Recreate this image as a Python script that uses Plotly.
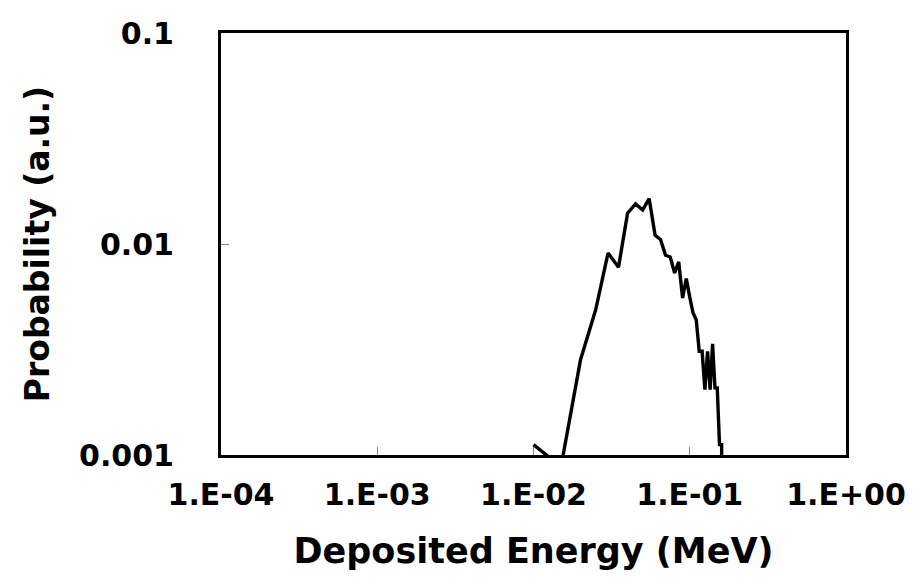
import plotly.graph_objects as go

energy_mev = [0.010, 0.015, 0.020, 0.025, 0.030, 0.035, 0.040, 0.045, 0.050, 0.055,
              0.060, 0.065, 0.070, 0.075, 0.080, 0.085, 0.090, 0.095, 0.100, 0.105,
              0.110, 0.115, 0.120, 0.125, 0.130, 0.135, 0.140, 0.145, 0.150, 0.155,
              0.160, 0.165]
probability = [1.12e-3, 8.8e-4, 2.83e-3, 4.88e-3, 9.06e-3, 7.76e-3, 1.40e-2, 1.55e-2,
               1.45e-2, 1.64e-2, 1.10e-2, 1.05e-2, 8.84e-3, 8.68e-3, 7.29e-3, 8.22e-3,
               5.55e-3, 6.85e-3, 5.6e-3, 4.71e-3, 4.38e-3, 3.10e-3, 3.10e-3, 2.04e-3,
               3.10e-3, 2.04e-3, 3.36e-3, 2.08e-3, 2.08e-3, 1.12e-3, 1.12e-3, 1e-6]

x_tickvals = [1e-4, 1e-3, 1e-2, 1e-1, 1e0]
x_ticktext = ["1.E-04", "1.E-03", "1.E-02", "1.E-01", "1.E+00"]
y_tickvals = [1e-3, 1e-2, 1e-1]
y_ticktext = ["0.001", "0.01", "0.1"]

FONT = "DejaVu Sans"

fig = go.Figure()
fig.add_trace(go.Scatter(x=energy_mev, y=probability, mode="lines",
                         line=dict(color="black", width=3.4), showlegend=False))

fig.update_layout(
    width=921, height=586,
    margin=dict(l=213, r=83, t=25, b=139),
    paper_bgcolor="white", plot_bgcolor="white",
    font=dict(family=FONT, color="black"),
)
fig.update_xaxes(
    type="log", range=[-4, 0], automargin=False,
    tickvals=x_tickvals, ticktext=x_ticktext,
    tickfont=dict(family=FONT, size=30, weight="bold"),
    ticks="inside", ticklen=8, tickcolor="#888888", tickwidth=1,
    ticklabelstandoff=11,
    showline=True, linecolor="black", linewidth=3, mirror=True,
    showgrid=False, zeroline=False,
    title=dict(text="Deposited Energy (MeV)", font=dict(family=FONT, size=35, weight="bold"), standoff=28),
)
fig.update_yaxes(
    type="log", range=[-3, -1], automargin=False,
    tickvals=y_tickvals, ticktext=y_ticktext,
    tickfont=dict(family=FONT, size=30, weight="bold"),
    ticks="inside", ticklen=8, tickcolor="#888888", tickwidth=1,
    ticklabelstandoff=38,
    showline=True, linecolor="black", linewidth=3, mirror=True,
    showgrid=False, zeroline=False,
    title=dict(text="Probability (a.u.)", font=dict(family=FONT, size=33, weight="bold"), standoff=20),
)

fig.write_html("out.html")
